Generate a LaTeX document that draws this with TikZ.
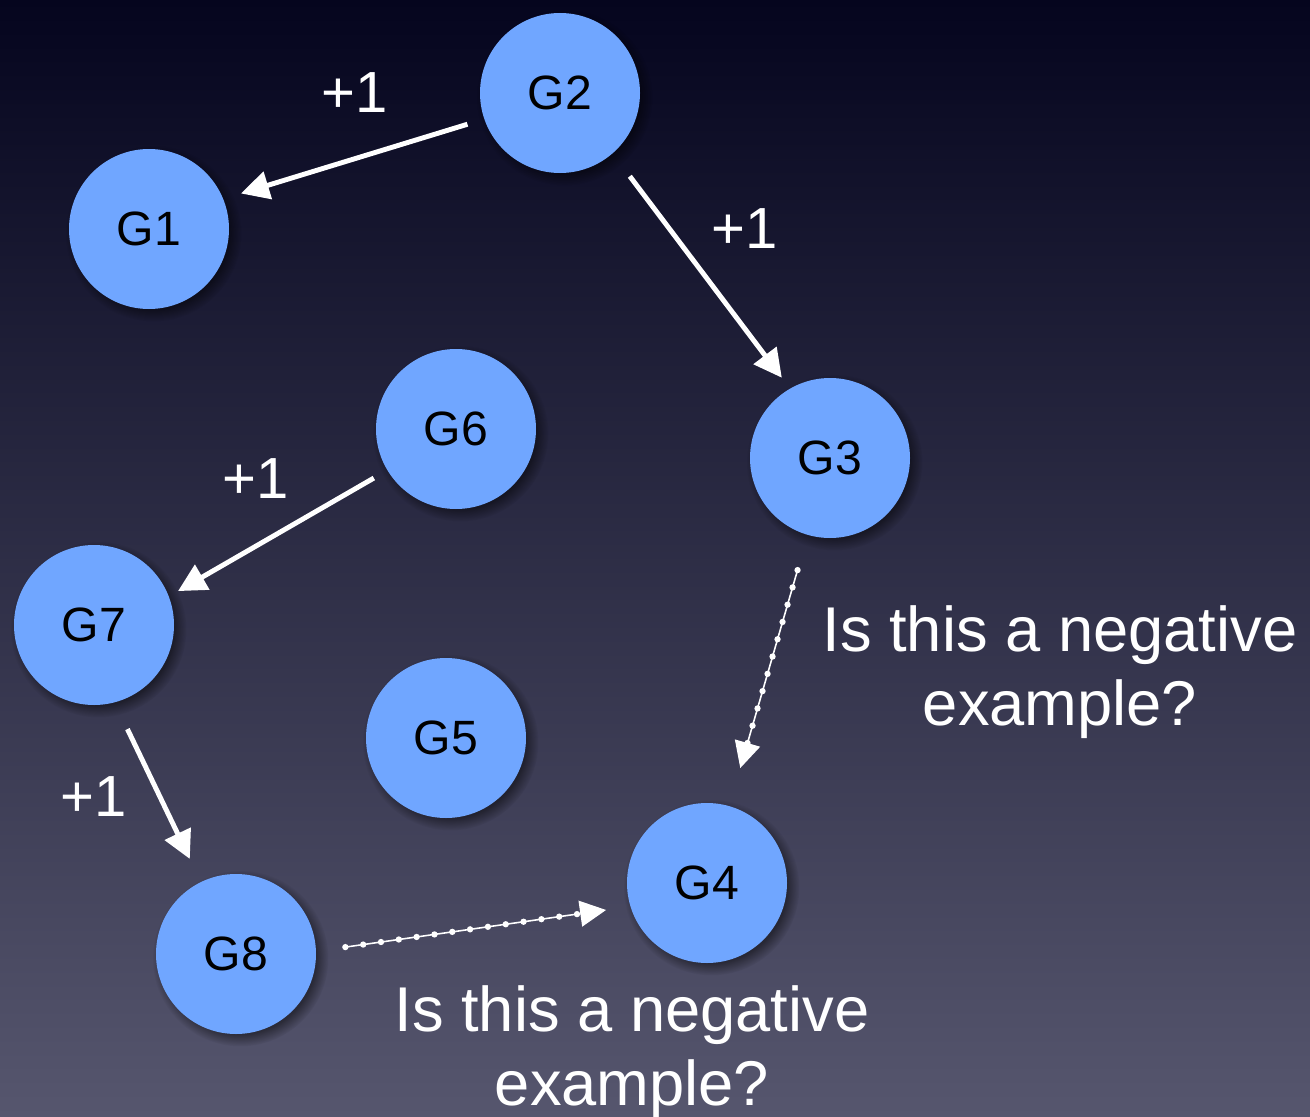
\documentclass[tikz,border=0pt]{standalone}
\usepackage{fontspec}
\setmainfont{Liberation Sans}
\usetikzlibrary{arrows.meta,shadows}
\definecolor{bgtop}{HTML}{05051E}
\definecolor{bgbottom}{HTML}{56566E}
\definecolor{gnode}{HTML}{70A6FF}
\begin{document}
\begin{tikzpicture}[
  gene/.style={circle, fill=gnode, minimum size=1.6cm, inner sep=0pt,
    font=\fontsize{13.7}{16}\selectfont,
    circular drop shadow={shadow xshift=0.04cm, shadow yshift=-0.04cm, opacity=0.45, fill=black}},
  plus/.style={text=white, font=\fontsize{16.5}{19}\selectfont},
  question/.style={text=white, align=center, font=\fontsize{18}{21}\selectfont},
  link/.style={draw=white, line width=1.4pt, -{Triangle[length=0.28cm,width=0.28cm]}},
  maybe/.style={draw=white, line width=0.45pt, -{Triangle[length=0.26cm,width=0.26cm]},
    postaction={draw=white, -, line width=1.8pt, line cap=round, dash pattern=on 0pt off 0.18cm}}
]
\shade[top color=bgtop, bottom color=bgbottom] (0,0) rectangle (13.10,-11.17);
\useasboundingbox (0,0) rectangle (13.10,-11.17);
% the genes
\node[gene] (g1) at (1.49,-2.29) {G1};
\node[gene] (g2) at (5.60,-0.93) {G2};
\node[gene] (g3) at (8.30,-4.58) {G3};
\node[gene] (g4) at (7.07,-8.83) {G4};
\node[gene] (g5) at (4.46,-7.38) {G5};
\node[gene] (g6) at (4.56,-4.29) {G6};
\node[gene] (g7) at (0.94,-6.25) {G7};
\node[gene] (g8) at (2.36,-9.54) {G8};
% labels
\node[plus] (p21) at (3.55,-0.93) {+1};
\node[plus] (p23) at (7.45,-2.29) {+1};
\node[plus] (p67) at (2.56,-4.79) {+1};
\node[plus] (p78) at (0.94,-7.97) {+1};
\node[question] (q34) at (10.60,-6.72) {Is this a negative\\example?};
\node[question] (q84) at (6.32,-10.52) {Is this a negative\\example?};
% links
\draw[link, shorten <=0.17cm, shorten >=0.18cm] (g2.199) -- (g1.22);
\draw[link, shorten <=0.28cm, shorten >=0.13cm] (g2.-49) -- (g3.120);
\draw[link, shorten <=0.15cm, shorten >=0.10cm] (g6.211) -- (g7.21);
\draw[link, shorten <=0.29cm, shorten >=0.25cm] (g7.-75) -- (g8.116);
\draw[maybe, shorten <=0.36cm, shorten >=0.39cm] (g3) -- (g4);
\draw[maybe, shorten <=0.29cm, shorten >=0.24cm] (g8.2) -- (g4.197);
\end{tikzpicture}
\end{document}
